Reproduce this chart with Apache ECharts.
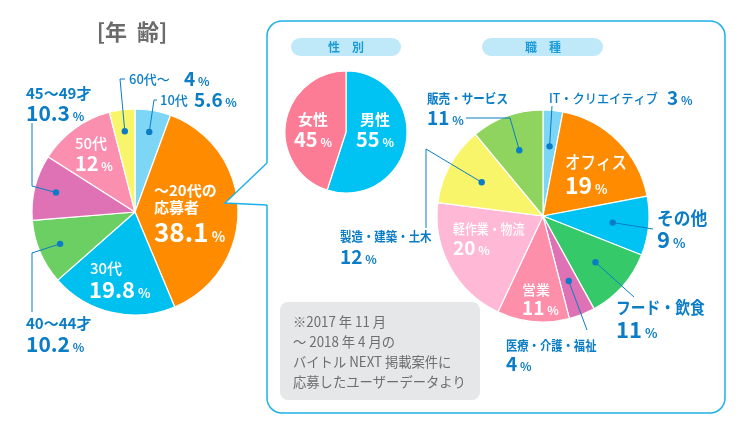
<!DOCTYPE html>
<html><head><meta charset="utf-8">
<script src="https://cdn.jsdelivr.net/npm/echarts@6/dist/echarts.min.js"></script>
<style>html,body{margin:0;padding:0;background:#fff}#c{width:748px;height:435px}</style>
</head><body><div id="c"></div>
<script>
// ---- data ----
const ageCats = ['10代', '～20代の応募者', '30代', '40～44才', '45～49才', '50代', '60代～'];
const ageVals = [5.6, 38.1, 19.8, 10.2, 10.3, 12, 4];
const genderCats = ['男性', '女性'];
const genderVals = [55, 45];
const jobCats = ['IT・クリエイティブ', 'オフィス', 'その他', 'フード・飲食', '医療・介護・福祉', '営業', '軽作業・物流', '製造・建築・土木', '販売・サービス'];
const jobVals = [3, 19, 9, 11, 4, 11, 20, 12, 11];
const noteLines = ['※2017 年 11 月', '～ 2018 年 4 月の', 'バイトル NEXT 掲載案件に', '応募したユーザーデータより'];

// ---- styles ----
const ageColors = ['#7dd6f5', '#ff8c00', '#00c0f0', '#6ccf63', '#df72b4', '#fb8fb0', '#f9f56a'];
const genderColors = ['#00c3f3', '#fc7b95'];
const jobColors = ['#7dd6f5', '#ff8c00', '#00c3f3', '#35c96a', '#df72b4', '#fd8fab', '#ffb8d5', '#f9f56a', '#8ed45f'];
const FONT = '"Noto Sans CJK JP", "Noto Sans", sans-serif';
const BLUE = '#0b7dc6';
const AGE = {c: [135, 212], r: 103};
const GEN = {c: [346, 132], r: 61};
const JOB = {c: [543, 216], r: 106};

const chart = echarts.init(document.getElementById('c'), null, {renderer: 'canvas'});

function pieData(cats, vals, colors) {
  return cats.map((n, i) => ({name: n, value: vals[i], itemStyle: {color: colors[i]}}));
}
function midPoint(vals, idx, geo, frac) {
  const tot = vals.reduce((a, b) => a + b, 0);
  let cum = 0;
  for (let i = 0; i < idx; i++) cum += vals[i];
  const a = (cum + vals[idx] / 2) / tot * 2 * Math.PI;
  return [geo.c[0] + Math.sin(a) * geo.r * frac, geo.c[1] - Math.cos(a) * geo.r * frac];
}
function fmt(v) { return String(v); }

const G = [];
function txt(x, y, text, size, color, weight, align, sx) {
  G.push({type: 'text', z: 100, x: x, y: y, scaleX: sx || 1, style: {x: 0, y: 0, text: text, fill: color, font: (weight || 'bold') + ' ' + size + 'px ' + FONT, textAlign: align || 'left', textVerticalAlign: 'middle'}});
}
function numPct(x, y, num, size, pctSize, color, align) {
  G.push({type: 'text', z: 100, style: {x: x, y: y, textAlign: align || 'left', textVerticalAlign: 'middle',
    text: '{n|' + num + '}{p| %}',
    rich: {n: {fontSize: size, fontWeight: 'bold', fill: color, fontFamily: FONT, verticalAlign: 'bottom'},
           p: {fontSize: pctSize, fontWeight: 'bold', fill: color, fontFamily: FONT, verticalAlign: 'bottom', padding: [0, 0, 1, 0]}}}});
}
function leader(points) {
  G.push({type: 'polyline', z: 100, shape: {points: points}, style: {stroke: BLUE, lineWidth: 1, fill: null}});
  G.push({type: 'circle', z: 100, shape: {cx: points[0][0], cy: points[0][1], r: 3.2}, style: {fill: BLUE}});
}

// frame with notch
G.push({type: 'rect', z: 5, shape: {x: 267, y: 21, width: 458, height: 392, r: 15}, style: {fill: '#fff', stroke: '#1eb2e8', lineWidth: 1.5}});
G.push({type: 'polygon', z: 6, shape: {points: [[225, 203], [267, 163], [270, 163], [270, 205], [267, 205]]}, style: {fill: '#fff'}});
G.push({type: 'polyline', z: 7, shape: {points: [[267, 163], [225, 203], [267, 205]]}, style: {stroke: '#1eb2e8', lineWidth: 1.5, fill: null}});
// title
txt(132, 32, '[年  齢]', 22, '#6b6b6b', 'bold', 'center');
// pills
G.push({type: 'rect', z: 50, shape: {x: 291, y: 38, width: 110, height: 18, r: 9}, style: {fill: '#bfe9f9'}});
txt(346, 47.5, '性　別', 12, '#1b9cd8', 'bold', 'center');
G.push({type: 'rect', z: 50, shape: {x: 482, y: 38, width: 121, height: 18, r: 9}, style: {fill: '#bfe9f9'}});
txt(543, 47.5, '職　種', 12, '#1b9cd8', 'bold', 'center');
// note box
G.push({type: 'rect', z: 50, shape: {x: 280, y: 302, width: 200, height: 98, r: 8}, style: {fill: '#e6e7e8'}});
noteLines.forEach((l, i) => txt(293, 322 + i * 20, l, 14, '#6d6e70', 'normal', 'left', 0.95));

// ---- age labels ----
const W = '#fff';
leader([midPoint(ageVals, 0, AGE, 0.79), [154, 100], [157, 100]]);
txt(160, 100, ageCats[0], 13, BLUE, '500');
numPct(194, 100, fmt(ageVals[0]), 19, 12, BLUE);
leader([midPoint(ageVals, 6, AGE, 0.79), [120, 79], [125, 79]]);
txt(129, 79, ageCats[6], 13, BLUE, '500');
numPct(184, 79, fmt(ageVals[6]), 19, 12, BLUE);
leader([midPoint(ageVals, 4, AGE, 0.79), [32, 186], [32, 123]]);
txt(26, 93, ageCats[4], 15, BLUE);
numPct(26, 113, fmt(ageVals[4]), 21, 12, BLUE);
leader([midPoint(ageVals, 3, AGE, 0.79), [32, 253], [32, 312]]);
txt(26, 323, ageCats[3], 15, BLUE);
numPct(26, 344, fmt(ageVals[3]), 21, 12, BLUE);
txt(75, 143, ageCats[5], 15, W, '500');
numPct(75, 163, fmt(ageVals[5]), 20, 12, W);
txt(154, 190, '～20代の', 15, W);
txt(154, 207, '応募者', 15, W);
numPct(154, 232, fmt(ageVals[1]), 26, 14, W);
txt(90, 268, ageCats[2], 15, W, '500');
numPct(89, 290, fmt(ageVals[2]), 22, 13, W);

// ---- gender labels ----
txt(375, 119, '男性', 15, W, 'bold', 'center');
numPct(375, 139, fmt(genderVals[0]), 20, 12, W, 'center');
txt(313, 119, '女性', 15, W, 'bold', 'center');
numPct(313, 139, fmt(genderVals[1]), 20, 12, W, 'center');

// ---- job labels ----
leader([midPoint(jobVals, 0, JOB, 0.66), [552, 106]]);
txt(549, 98, jobCats[0], 13, BLUE, '500', 'left', 0.94);
numPct(667, 98, fmt(jobVals[0]), 19, 12, BLUE);
leader([midPoint(jobVals, 8, JOB, 0.66), [510, 118], [466, 118]]);
txt(427, 98, jobCats[8], 13, BLUE, 'bold', 'left', 0.89);
numPct(427, 118, fmt(jobVals[8]), 19, 12, BLUE);
leader([midPoint(jobVals, 7, JOB, 0.66), [426, 149], [426, 228]]);
txt(340, 236, jobCats[7], 13, BLUE, 'bold', 'left', 0.88);
numPct(340, 257, fmt(jobVals[7]), 19, 12, BLUE);
leader([midPoint(jobVals, 2, JOB, 0.66), [653, 229]]);
txt(657, 218, jobCats[2], 18, BLUE, 'bold', 'left', 0.93);
numPct(657, 240, fmt(jobVals[2]), 22, 13, BLUE);
leader([midPoint(jobVals, 3, JOB, 0.66), [634, 297]]);
txt(616, 308, jobCats[3], 17, BLUE, 'bold', 'left', 0.87);
numPct(616, 330, fmt(jobVals[3]), 22, 13, BLUE);
leader([midPoint(jobVals, 4, JOB, 0.66), [587, 330]]);
txt(506, 345, jobCats[4], 13, BLUE, 'bold', 'left', 0.87);
numPct(506, 364, fmt(jobVals[4]), 19, 12, BLUE);
txt(565, 162, jobCats[1], 18, W, '500', 'left', 0.86);
numPct(565, 185, fmt(jobVals[1]), 23, 13, W);
txt(453, 229, jobCats[6], 14, W, '500', 'left', 0.85);
numPct(453, 248, fmt(jobVals[6]), 19, 12, W);
txt(522, 290, jobCats[5], 14, W, '500');
numPct(522, 308, fmt(jobVals[5]), 19, 12, W);

const base = {type: 'pie', startAngle: 90, clockwise: true, label: {show: false}, labelLine: {show: false},
  silent: true, animation: false, itemStyle: {borderColor: '#fff', borderWidth: 1.2}};

chart.setOption({
  animation: false,
  series: [
    Object.assign({}, base, {z: 2, center: AGE.c, radius: AGE.r, data: pieData(ageCats, ageVals, ageColors)}),
    Object.assign({}, base, {z: 20, center: GEN.c, radius: GEN.r, data: pieData(genderCats, genderVals, genderColors)}),
    Object.assign({}, base, {z: 20, center: JOB.c, radius: JOB.r, data: pieData(jobCats, jobVals, jobColors)})
  ],
  graphic: {elements: G}
});
</script></body></html>
